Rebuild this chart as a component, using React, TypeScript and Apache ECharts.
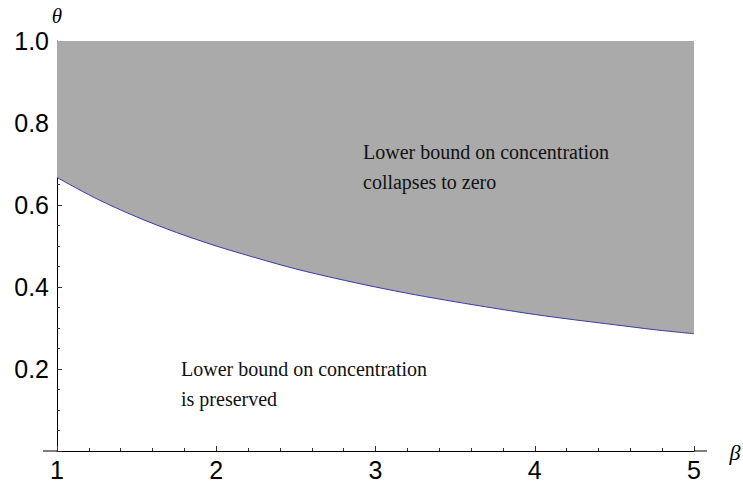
import React, { useEffect, useRef } from "react";
import * as echarts from "echarts";

const betaValues = [1, 1.25, 1.5, 1.75, 2, 2.25, 2.5, 2.75, 3, 3.25, 3.5, 3.75, 4, 4.25, 4.5, 4.75, 5];
const thetaValues = [0.667, 0.615, 0.571, 0.533, 0.5, 0.471, 0.444, 0.421, 0.4, 0.381, 0.364, 0.348, 0.333, 0.32, 0.308, 0.296, 0.286];
const xTickLabels = ["1", "2", "3", "4", "5"];
const yTickLabels = ["", "0.2", "0.4", "0.6", "0.8", "1.0"];
const upperNote = "Lower bound on concentration\ncollapses to zero";
const lowerNote = "Lower bound on concentration\nis preserved";

export default function App() {
  const ref = useRef<HTMLDivElement>(null);
  useEffect(() => {
    if (!ref.current) return;
    const chart = echarts.init(ref.current, undefined, { renderer: "svg" });
    const data = betaValues.map((b, i) => [b, thetaValues[i]]);
    const sansFont = "Liberation Sans";
    const serifFont = "Liberation Serif";
    chart.setOption({
      animation: false,
      backgroundColor: "#ffffff",
      grid: { left: 57, right: 49, top: 41, bottom: 38, containLabel: false },
      xAxis: {
        type: "value",
        min: 1,
        max: 5,
        interval: 1,
        axisLine: { show: true, onZero: true, lineStyle: { color: "#000", width: 1 } },
        axisTick: { show: true, inside: true, length: 5, lineStyle: { color: "#333" } },
        minorTick: { show: true, splitNumber: 5, length: 3, lineStyle: { color: "#333" } },
        splitLine: { show: false },
        axisLabel: {
          color: "#000",
          fontFamily: sansFont,
          fontSize: 25,
          margin: 6,
          formatter: (v: number) => xTickLabels[Math.round(v) - 1] ?? "",
        },
      },
      yAxis: {
        type: "value",
        min: 0,
        max: 1,
        interval: 0.2,
        axisLine: { show: true, onZero: false, lineStyle: { color: "#000", width: 1 } },
        axisTick: { show: true, inside: true, length: 5, lineStyle: { color: "#333" } },
        minorTick: { show: true, splitNumber: 4, length: 3, lineStyle: { color: "#333" } },
        splitLine: { show: false },
        axisLabel: {
          color: "#000",
          fontFamily: sansFont,
          fontSize: 25,
          margin: 8,
          formatter: (v: number) => yTickLabels[Math.round(v * 5)] ?? "",
        },
      },
      series: [
        {
          type: "line",
          data,
          smooth: 0.3,
          symbol: "none",
          lineStyle: { color: "#3a3aa8", width: 1 },
          areaStyle: { origin: "end", color: "#aaaaaa", opacity: 1 },
          z: 1,
        },
      ],
      graphic: [
        { type: "line", shape: { x1: 43, y1: 451, x2: 57, y2: 451 }, style: { stroke: "#000", lineWidth: 1 }, z: 10 },
        { type: "line", shape: { x1: 694, y1: 451, x2: 707, y2: 451 }, style: { stroke: "#000", lineWidth: 1 }, z: 10 },
        {
          type: "text",
          x: 57,
          y: 16,
          style: { text: "θ", fontFamily: serifFont, fontStyle: "italic", fontSize: 21, fill: "#000", align: "center", verticalAlign: "middle" },
          z: 10,
        },
        {
          type: "text",
          x: 735,
          y: 452,
          style: { text: "β", fontFamily: serifFont, fontStyle: "italic", fontSize: 22, fill: "#000", align: "center", verticalAlign: "middle" },
          z: 10,
        },
        {
          type: "text",
          x: 363,
          y: 137,
          style: { text: upperNote, fontFamily: serifFont, fontSize: 20, fill: "#111", lineHeight: 30 },
          z: 10,
        },
        {
          type: "text",
          x: 181,
          y: 354,
          style: { text: lowerNote, fontFamily: serifFont, fontSize: 20, fill: "#111", lineHeight: 30 },
          z: 10,
        },
      ],
    });
    return () => chart.dispose();
  }, []);
  return <div ref={ref} style={{ width: 743, height: 489, position: "absolute", left: 0, top: 0 }} />;
}
